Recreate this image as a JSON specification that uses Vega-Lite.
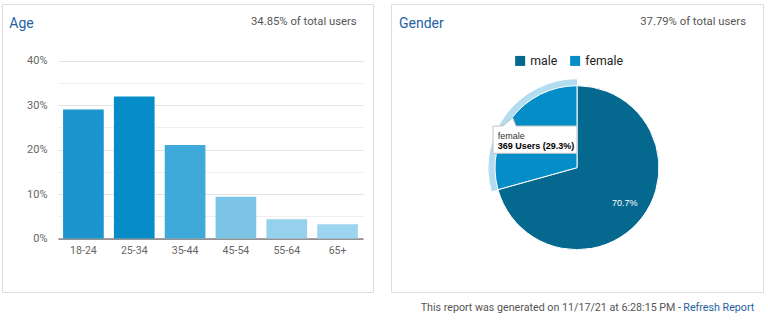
{
  "$schema": "https://vega.github.io/schema/vega-lite/v6.json",
  "padding": {"left": 1, "top": 3, "right": 4, "bottom": 0},
  "background": "white",
  "config": {
    "view": {"stroke": "#dddddd", "strokeWidth": 1},
    "font": "Roboto"
  },
  "spacing": 0,
  "vconcat": [
    {
      "spacing": 16,
      "resolve": {"scale": {"color": "independent"}, "legend": {"color": "independent"}},
      "hconcat": [
        {
          "width": 371,
          "height": 288,
          "layer": [
            {
              "data": {"values": [
                {"age": "18-24", "pct": 29.0},
                {"age": "25-34", "pct": 31.9},
                {"age": "35-44", "pct": 21.0},
                {"age": "45-54", "pct": 9.4},
                {"age": "55-64", "pct": 4.3},
                {"age": "65+", "pct": 3.2}
              ]},
              "mark": {"type": "bar"},
              "encoding": {
                "x": {
                  "field": "age", "type": "nominal", "sort": null,
                  "scale": {"range": [56, 361], "paddingInner": 0.2, "paddingOuter": 0.1},
                  "axis": {"orient": "bottom", "offset": -53.5, "ticks": false, "domainColor": "#444444", "domainWidth": 1, "labelPadding": 7, "labelFontSize": 10.6, "labelColor": "#666666", "labelAngle": 0, "title": null, "grid": false}
                },
                "y": {
                  "field": "pct", "type": "quantitative",
                  "scale": {"domain": [0, 40], "range": [234.5, 56.5], "nice": false},
                  "axis": {"values": [0, 5, 10, 15, 20, 25, 30, 35, 40], "labelExpr": "datum.value % 10 === 0 ? datum.value + '%' : ''", "offset": -56, "ticks": false, "domain": false, "labelPadding": 11, "labelFontSize": 11, "labelColor": "#666666", "title": null, "grid": true, "gridColor": {"condition": {"test": "datum.value % 10 === 0", "value": "#e3e3e3"}, "value": "#efefef"}}
                },
                "color": {
                  "field": "age", "type": "nominal", "sort": null,
                  "scale": {"domain": ["18-24", "25-34", "35-44", "45-54", "55-64", "65+"], "range": ["#1c94cd", "#068cc6", "#3fa9d9", "#7cc5e6", "#95d1ed", "#9bd5ef"]},
                  "legend": null
                }
              }
            },
            {
              "data": {"values": [{"label": "Age"}]},
              "mark": {"type": "text", "align": "left", "baseline": "alphabetic", "fontSize": 14, "color": "#2662a6"},
              "encoding": {"x": {"value": 7.3}, "y": {"value": 23.7}, "text": {"field": "label"}}
            },
            {
              "data": {"values": [{"label": "34.85% of total users"}]},
              "mark": {"type": "text", "align": "right", "baseline": "alphabetic", "fontSize": 11.3, "color": "#555555"},
              "encoding": {"x": {"value": 354.7}, "y": {"value": 21}, "text": {"field": "label"}}
            }
          ]
        },
        {
          "width": 372,
          "height": 288,
          "data": {"values": [
            {"gender": "male", "users": 890, "share": 0.707},
            {"gender": "female", "users": 369, "share": 0.293}
          ]},
          "layer": [
            {
              "mark": {"type": "arc", "radius": 88.5, "radius2": 82, "yOffset": 19.7, "color": "#b3dcef"},
              "encoding": {
                "theta": {"field": "users", "type": "quantitative", "stack": true},
                "order": {"field": "gender", "sort": "descending"},
                "opacity": {"condition": {"test": "datum.gender === 'male'", "value": 0}, "value": 1}
              }
            },
            {
              "mark": {"type": "arc", "radius": 82, "yOffset": 19.7, "stroke": "white", "strokeWidth": 1},
              "encoding": {
                "theta": {"field": "users", "type": "quantitative", "stack": true},
                "order": {"field": "gender", "sort": "descending"},
                "color": {
                  "field": "gender", "type": "nominal",
                  "scale": {"domain": ["male", "female"], "range": ["#05688f", "#058dc7"]},
                  "legend": {"orient": "none", "legendX": 123, "legendY": 50.5, "direction": "horizontal", "title": null, "symbolType": "square", "symbolSize": 100, "symbolStrokeWidth": 0, "symbolOpacity": 1, "labelFontSize": 12.3, "labelColor": "#222222", "labelOffset": 4, "columnPadding": 11, "padding": 0}
                }
              }
            },
            {
              "mark": {"type": "text", "radius": 60, "yOffset": 18.7, "color": "white", "font": "Arial", "fontSize": 9},
              "encoding": {
                "theta": {"field": "users", "type": "quantitative", "stack": true},
                "order": {"field": "gender", "sort": "descending"},
                "text": {"field": "share", "type": "quantitative", "format": ".1%"},
                "opacity": {"condition": {"test": "datum.gender === 'female'", "value": 0}, "value": 1}
              }
            },
            {
              "data": {"values": [{"label": "tooltip"}]},
              "mark": {"type": "point", "shape": "M -84 -41.7 L -74 -41.7 L -64.3 -50 L -61 -41.7 L 0 -41.7 L 0 -14.4 L -84 -14.4 Z", "size": 4, "filled": true, "fill": "white", "stroke": "#c4c4c4", "strokeWidth": 1, "opacity": 1, "yOffset": 19.7},
              "encoding": {}
            },
            {
              "data": {"values": [{"label": "female"}]},
              "mark": {"type": "text", "align": "left", "baseline": "alphabetic", "font": "Arial", "fontSize": 9, "color": "#333333"},
              "encoding": {"x": {"value": 106.7}, "y": {"value": 135.3}, "text": {"field": "label"}}
            },
            {
              "data": {"values": [{"label": "369 Users (29.3%)"}]},
              "mark": {"type": "text", "align": "left", "baseline": "alphabetic", "font": "Arial", "fontSize": 9, "fontWeight": "bold", "color": "#000000"},
              "encoding": {"x": {"value": 106.7}, "y": {"value": 145}, "text": {"field": "label"}}
            },
            {
              "data": {"values": [{"label": "Gender"}]},
              "mark": {"type": "text", "align": "left", "baseline": "alphabetic", "fontSize": 14, "color": "#2662a6"},
              "encoding": {"x": {"value": 8}, "y": {"value": 23.7}, "text": {"field": "label"}}
            },
            {
              "data": {"values": [{"label": "37.79% of total users"}]},
              "mark": {"type": "text", "align": "right", "baseline": "alphabetic", "fontSize": 11.3, "color": "#555555"},
              "encoding": {"x": {"value": 355}, "y": {"value": 21}, "text": {"field": "label"}}
            }
          ]
        }
      ]
    },
    {
      "width": 762,
      "height": 32,
      "view": {"stroke": null},
      "layer": [
        {
          "data": {"values": [{"label": "This report was generated on 11/17/21 at 6:28:15 PM -"}]},
          "mark": {"type": "text", "align": "right", "baseline": "alphabetic", "fontSize": 10.7, "color": "#555555"},
          "encoding": {"x": {"value": 679}, "y": {"value": 18}, "text": {"field": "label"}}
        },
        {
          "data": {"values": [{"label": "Refresh Report"}]},
          "mark": {"type": "text", "align": "right", "baseline": "alphabetic", "fontSize": 10.7, "color": "#1f5f9f"},
          "encoding": {"x": {"value": 752.3}, "y": {"value": 18}, "text": {"field": "label"}}
        }
      ]
    }
  ]
}
